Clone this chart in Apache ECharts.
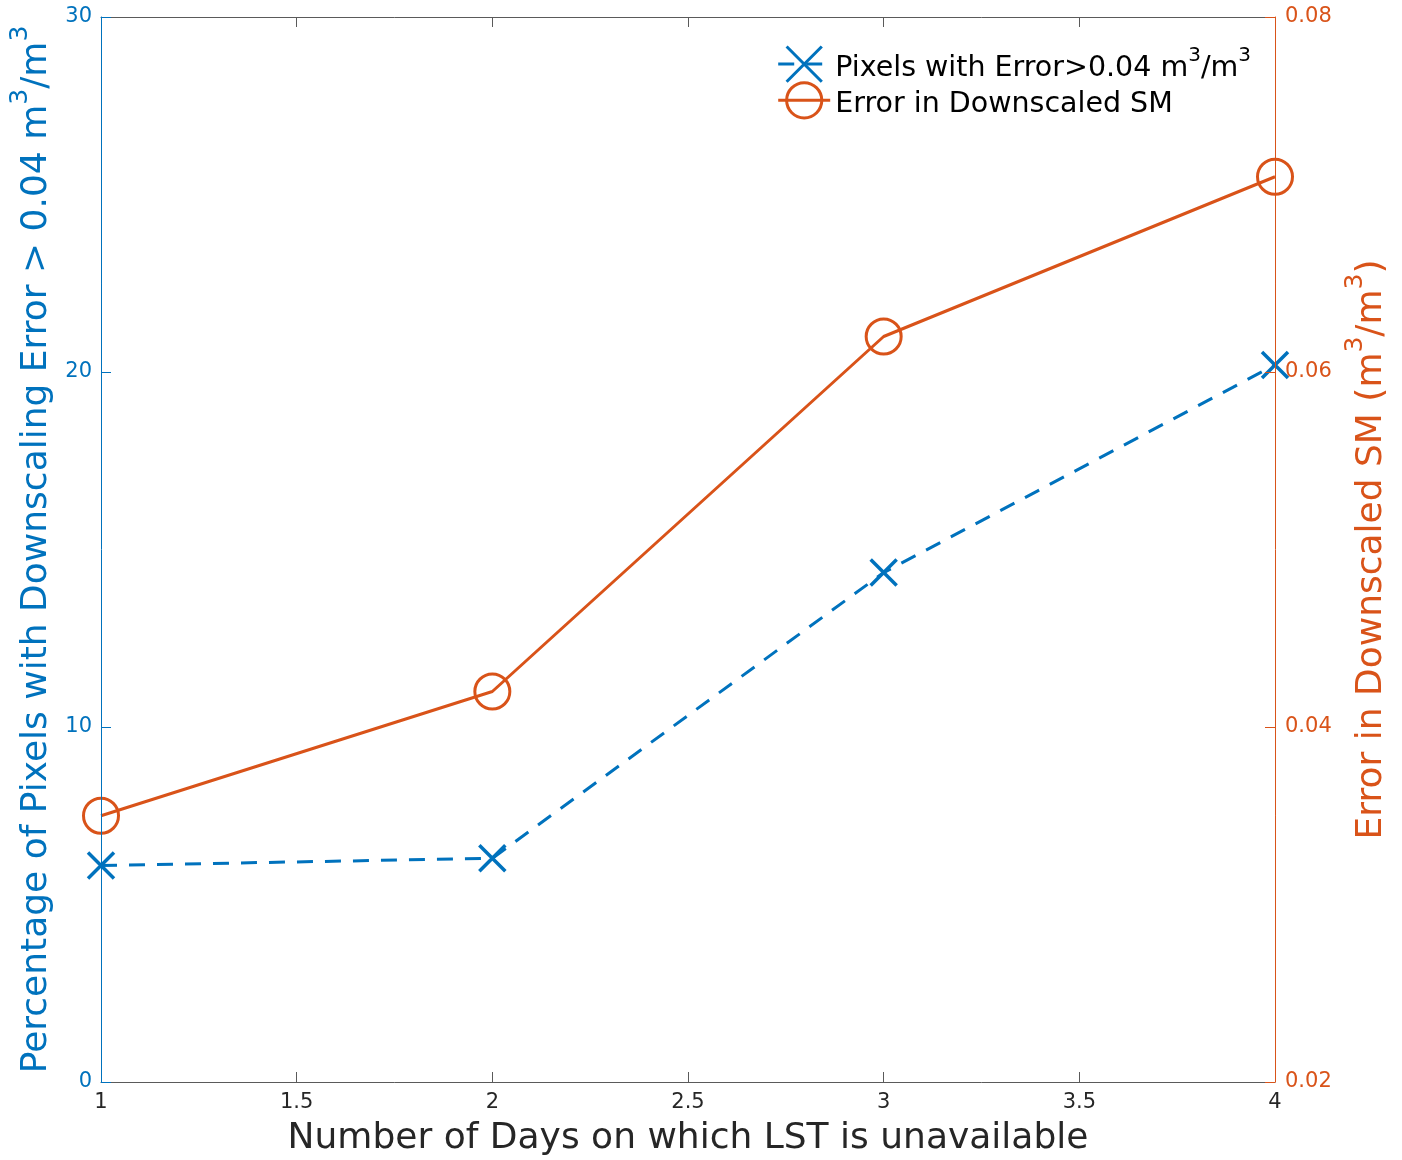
<!DOCTYPE html>
<html>
<head>
<meta charset="utf-8">
<script src="https://cdn.jsdelivr.net/npm/echarts@6/dist/echarts.min.js"></script>
<style>
  html, body { margin: 0; padding: 0; background: #fff; }
  #chart { width: 1402px; height: 1160px; }
</style>
</head>
<body>
<div id="chart"></div>
<script>
// Days on which LST is unavailable
const days = [1, 2, 3, 4];
// Percentage of pixels with downscaling error > 0.04 m3/m3
const pixelsPct = [6.1, 6.3, 14.35, 20.2];
// Error in downscaled soil moisture (m3/m3)
const smError = [0.035, 0.042, 0.062, 0.071];

const BLUE = '#0072BD';
const ORANGE = '#D95319';
const DARK = '#262626';
const BOX = '#5a5a5a';
const FONT = 'DejaVu Sans';
const TICK_FONT = 21;

const chart = echarts.init(document.getElementById('chart'));

// rich styles: normal text plus a raised, smaller superscript
const supRich = (color, size) => ({
  t: { fontFamily: FONT, fontSize: size, color: color, lineHeight: size * 1.3, verticalAlign: 'bottom' },
  s: { fontFamily: FONT, fontSize: Math.round(size * 0.7), color: color, lineHeight: size * 1.3, verticalAlign: 'top' }
});

const xCommon = {
  type: 'value',
  min: 1, max: 4, interval: 0.5,
  axisLine: { show: true, onZero: false, lineStyle: { color: BOX, width: 1 } },
  axisTick: { show: true, inside: true, length: 10, lineStyle: { color: BOX } },
  splitLine: { show: false }
};

chart.setOption({
  animation: false,
  backgroundColor: '#fff',
  grid: {
    left: 101, right: 127, top: 17, bottom: 78,
    show: false, containLabel: false, outerBoundsMode: 'none'
  },
  legend: {
    orient: 'vertical',
    right: 146, top: 40,
    itemWidth: 52, itemHeight: 44, itemGap: -2,
    lineStyle: { width: 3 },
    itemStyle: { borderWidth: 3 },
    data: ['pixels', 'error'],
    formatter: function (name) {
      return name === 'pixels'
        ? '{t|Pixels with Error>0.04 m}{s|3}{t|/m}{s|3}'
        : '{t|Error in Downscaled SM}';
    },
    textStyle: { rich: supRich('#000', 28.5), fontFamily: FONT, fontSize: 28.5, color: '#000' }
  },
  xAxis: [
    Object.assign({}, xCommon, {
      position: 'bottom',
      name: 'Number of Days on which LST is unavailable',
      nameLocation: 'middle', nameGap: 39,
      nameTextStyle: { fontFamily: FONT, fontSize: 36, color: DARK },
      axisLabel: { show: true, fontFamily: FONT, fontSize: TICK_FONT, color: DARK, margin: 10 }
    }),
    Object.assign({}, xCommon, {
      position: 'top',
      axisLabel: { show: false }
    })
  ],
  yAxis: [
    {
      type: 'value', position: 'left',
      min: 0, max: 30, interval: 10,
      name: '{t|Percentage of Pixels with Downscaling Error > 0.04 m}{s|3}{t|/m}{s|3}',
      nameLocation: 'middle', nameRotate: 90, nameGap: 31,
      nameTextStyle: { rich: supRich(BLUE, 36) },
      axisLine: { show: true, onZero: false, lineStyle: { color: BLUE, width: 1 } },
      axisTick: { show: true, inside: true, length: 10, lineStyle: { color: BLUE } },
      axisLabel: { show: true, fontFamily: FONT, fontSize: TICK_FONT, color: BLUE, margin: 9 },
      splitLine: { show: false },
      z: 5
    },
    {
      type: 'value', position: 'right',
      min: 0.02, max: 0.08, interval: 0.02,
      name: '{t|Error in Downscaled SM (m}{s|3}{t|/m}{s|3}{t|)}',
      nameLocation: 'middle', nameRotate: 90, nameGap: 60,
      nameTextStyle: { rich: supRich(ORANGE, 36) },
      axisLine: { show: true, onZero: false, lineStyle: { color: ORANGE, width: 1 } },
      axisTick: { show: true, inside: true, length: 10, lineStyle: { color: ORANGE } },
      axisLabel: {
        show: true, fontFamily: FONT, fontSize: TICK_FONT, color: ORANGE, margin: 10,
        formatter: v => v.toFixed(2)
      },
      splitLine: { show: false },
      z: 5
    }
  ],
  series: [
    {
      name: 'pixels',
      type: 'line',
      xAxisIndex: 0, yAxisIndex: 0,
      data: days.map((d, i) => [d, pixelsPct[i]]),
      symbol: 'path://M0,0L10,10M10,0L0,10',
      symbolSize: 26,
      lineStyle: { color: BLUE, width: 3, type: [16, 12] },
      itemStyle: { color: 'transparent', borderColor: BLUE, borderWidth: 3.5 },
      z: 3
    },
    {
      name: 'error',
      type: 'line',
      xAxisIndex: 0, yAxisIndex: 1,
      data: days.map((d, i) => [d, smError[i]]),
      symbol: 'circle',
      symbolSize: 35,
      lineStyle: { color: ORANGE, width: 3 },
      itemStyle: { color: 'transparent', borderColor: ORANGE, borderWidth: 3 },
      z: 4
    }
  ]
});
</script>
</body>
</html>
